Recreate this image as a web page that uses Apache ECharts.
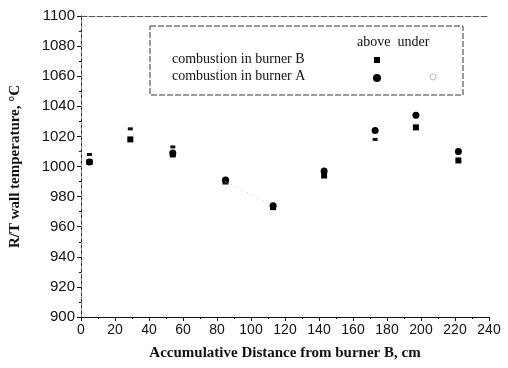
<!DOCTYPE html>
<html><head><meta charset="utf-8">
<script src="https://cdn.jsdelivr.net/npm/echarts@6/dist/echarts.min.js"></script>
<style>html,body{margin:0;padding:0;background:#fff}#c{width:508px;height:368px}</style>
</head><body><div id="c"></div>
<script>
const xTicks = [0,20,40,60,80,100,120,140,160,180,200,220,240];
const yTicks = [900,920,940,960,980,1000,1020,1040,1060,1080,1100];
const distance = [5, 29, 54, 85, 113, 143, 173, 197, 222];
const burnerB_above = [1003, 1018, 1008, 990, 973, 994, null, 1026, 1004];
const burnerA_above = [1003, null, 1009, 991, 974, 997, 1024, 1034, 1010];
const under_marks = [1008, 1025, 1013, null, null, null, 1018, null, null];
const trendX = [85, 113];
const trendY = [990, 974];

function pairs(xs, ys){ const out=[]; xs.forEach((x,i)=>{ if(ys[i]!=null) out.push([x,ys[i]]); }); return out; }

const chart = echarts.init(document.getElementById('c'), null, {renderer:'canvas'});
const serif = '"Liberation Serif", "DejaVu Serif", serif';
const sans = '"Liberation Sans", Arial, sans-serif';
chart.setOption({
  animation:false,
  grid:{left:81, right:19, top:16, bottom:51},
  xAxis:[{
    type:'value', min:0, max:240, interval:20,
    axisLine:{show:true, lineStyle:{color:'#111', width:1}},
    axisTick:{show:true, length:4, lineStyle:{color:'#111'}},
    minorTick:{show:true, splitNumber:2, length:2, lineStyle:{color:'#111'}},
    splitLine:{show:false},
    axisLabel:{color:'#111', fontFamily:sans, fontSize:14, margin:6,
      formatter:v=>xTicks.includes(v)?String(v):''},
    name:'Accumulative Distance from burner B, cm', nameLocation:'middle', nameGap:29,
    nameTextStyle:{fontFamily:serif, fontWeight:'bold', fontSize:15, color:'#111'}
  },{
    type:'value', min:0, max:240, position:'top',
    axisLine:{show:true, lineStyle:{color:'#555', width:1, type:[6,2]}},
    axisTick:{show:false}, axisLabel:{show:false}, splitLine:{show:false}
  }],
  yAxis:[{
    type:'value', min:900, max:1100, interval:20,
    axisLine:{show:true, lineStyle:{color:'#111', width:1}},
    axisTick:{show:true, length:4, lineStyle:{color:'#111'}},
    minorTick:{show:true, splitNumber:2, length:2, lineStyle:{color:'#111'}},
    splitLine:{show:false},
    axisLabel:{color:'#111', fontFamily:sans, fontSize:15, margin:6,
      formatter:v=>yTicks.includes(v)?String(v):''},
    name:'R/T wall temperature, \u00B0C', nameLocation:'middle', nameGap:58,
    nameTextStyle:{fontFamily:serif, fontWeight:'bold', fontSize:15, color:'#111'}
  },{
    type:'value', min:900, max:1100, position:'right',
    axisLine:{show:true, lineStyle:{color:'#888', width:1, type:[3,3]}},
    axisTick:{show:false}, axisLabel:{show:false}, splitLine:{show:false}
  }],
  series:[
    {type:'line', data:pairs(trendX, trendY), symbol:'none', silent:true,
      lineStyle:{color:'#bbb', width:1, type:[1,5]}},
    {name:'B above', type:'scatter', data:pairs(distance, burnerB_above), symbol:'rect', symbolSize:6,
      itemStyle:{color:'#000', opacity:1}},
    {name:'A above', type:'scatter', data:pairs(distance, burnerA_above), symbol:'circle', symbolSize:7,
      itemStyle:{color:'#000', opacity:1}},
    {name:'under', type:'scatter', data:pairs(distance, under_marks), symbol:'rect', symbolSize:[5,3],
      itemStyle:{color:'#111', opacity:1}}
  ],
  graphic:[
    {type:'rect', shape:{x:150, y:26, width:313, height:69}, style:{fill:'none', stroke:'#333', lineWidth:1, lineDash:[6,2]}},
    {type:'text', style:{x:357, y:35, text:'above  under', font:'14px '+serif, fill:'#111'}},
    {type:'text', style:{x:172, y:52, text:'combustion in burner B', font:'14px '+serif, fill:'#111'}},
    {type:'text', style:{x:172, y:69, text:'combustion in burner A', font:'14px '+serif, fill:'#111'}},
    {type:'rect', shape:{x:374, y:57, width:6, height:6}, style:{fill:'#000'}},
    {type:'circle', shape:{cx:377, cy:78, r:4}, style:{fill:'#000'}},
    {type:'circle', shape:{cx:433, cy:77, r:3}, style:{fill:'none', stroke:'#bbb', lineWidth:1}}
  ]
});
</script></body></html>
